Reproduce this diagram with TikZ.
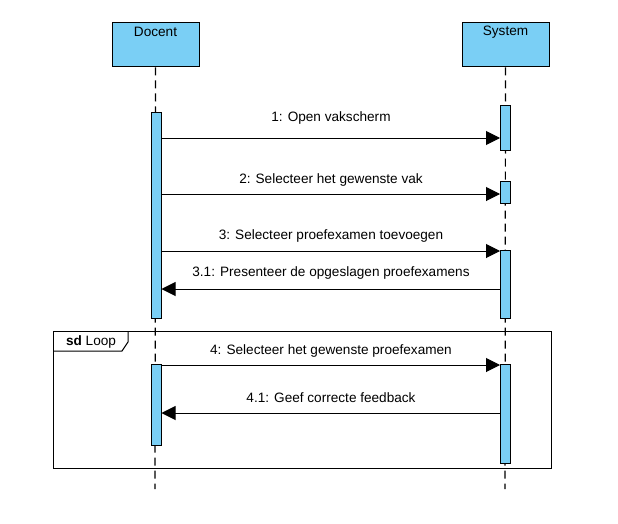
\documentclass[tikz,border=0pt]{standalone}
\usepackage{fontspec}
\setmainfont{Liberation Sans}
\usetikzlibrary{arrows.meta}
\definecolor{actfill}{RGB}{122,207,245}
\tikzset{
  actor/.style={draw, line width=1pt, fill=actfill, minimum width=87pt, minimum height=44pt, inner sep=0pt},
  actlabel/.style={font=\fontsize{13.6}{16}\selectfont},
  life/.style={line width=1.2pt, dash pattern=on 8pt off 5pt},
  activ/.style={draw, line width=1pt, fill=actfill, minimum width=10pt, inner sep=0pt},
  msg/.style={line width=1pt, -{Triangle[length=14pt,width=14pt]}},
  mlabel/.style={font=\fontsize{13.6}{16}\selectfont, inner sep=0pt},
  frame/.style={draw, line width=1pt}
}
\begin{document}
\begin{tikzpicture}[x=1pt,y=-1pt]
\useasboundingbox (0,0) rectangle (618,524);
% lifelines
\coordinate (dend) at (155,489);
\coordinate (send) at (505,489);
\node[actor] (docent) at (155.5,45) {};
\node[actor] (system) at (505.5,45) {};
\node[actlabel] at (155.5,32) {Docent};
\node[actlabel] at (505.5,32) {System};
\draw[life] (docent.south) -- (dend);
\draw[life] (system.south) -- (send);
% loop frame
\draw[frame] (53,331) rectangle (551,468);
\draw[frame] (53,351) -- (122,351) -- (128,342) -- (128,331);
\node[mlabel] at (91,342) {\textbf{sd} Loop};
% activations
\node[activ, minimum height=205pt] (d1) at (156,215.5) {};
\node[activ, minimum height=81pt] (d2) at (156,404.5) {};
\node[activ, minimum height=44pt] (s1) at (505.5,128) {};
\node[activ, minimum height=22pt] (s2) at (505.5,192) {};
\node[activ, minimum height=68pt] (s3) at (505.5,284) {};
\node[activ, minimum height=99pt] (s4) at (505.5,413.5) {};
% messages
\draw[msg] (d1.east |- 0,138) -- (s1.west |- 0,138);
\node[mlabel] at (331,118) {1: Open vakscherm};
\draw[msg] (d1.east |- 0,194) -- (s2.west |- 0,194);
\node[mlabel] at (331,180) {2: Selecteer het gewenste vak};
\draw[msg] (d1.east |- 0,251) -- (s3.west |- 0,251);
\node[mlabel] at (331,236) {3: Selecteer proefexamen toevoegen};
\draw[msg] (s3.west |- 0,289) -- (d1.east |- 0,289);
\node[mlabel] at (331,273) {3.1: Presenteer de opgeslagen proefexamens};
\draw[msg] (d2.east |- 0,365) -- (s4.west |- 0,365);
\node[mlabel] at (331,351) {4: Selecteer het gewenste proefexamen};
\draw[msg] (s4.west |- 0,413) -- (d2.east |- 0,413);
\node[mlabel] at (331,398) {4.1: Geef correcte feedback};
\end{tikzpicture}
\end{document}
